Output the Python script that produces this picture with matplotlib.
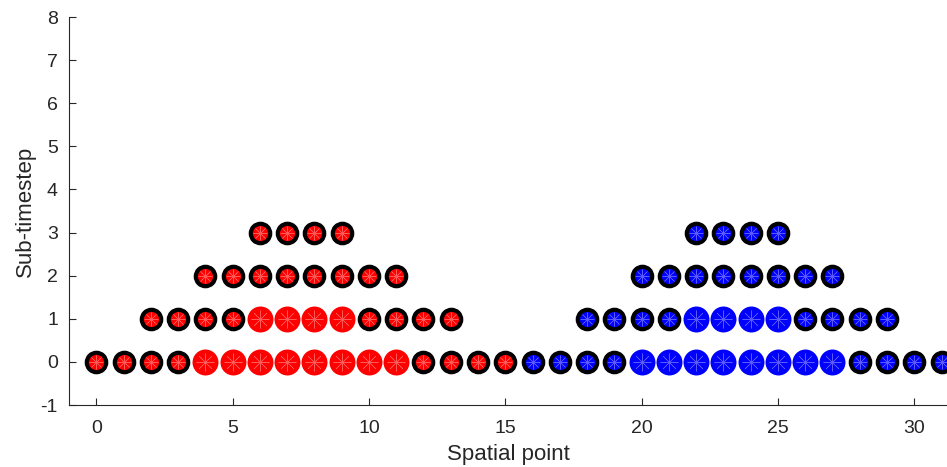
import matplotlib
matplotlib.use("Agg")
import matplotlib.pyplot as plt

plt.rcParams['font.family'] = ['Liberation Sans', 'DejaVu Sans']
plt.rcParams['axes.unicode_minus'] = False

# spatial points per sub-timestep (row), ring markers and plain filled markers
red_ring_0 = [0, 1, 2, 3, 12, 13, 14, 15]
red_ring_1 = [2, 3, 4, 5, 10, 11, 12, 13]
red_ring_2 = [4, 5, 6, 7, 8, 9, 10, 11]
red_ring_3 = [6, 7, 8, 9]
red_fill_0 = [4, 5, 6, 7, 8, 9, 10, 11]
red_fill_1 = [6, 7, 8, 9]

blue_ring_0 = [16, 17, 18, 19, 28, 29, 30, 31]
blue_ring_1 = [18, 19, 20, 21, 26, 27, 28, 29]
blue_ring_2 = [20, 21, 22, 23, 24, 25, 26, 27]
blue_ring_3 = [22, 23, 24, 25]
blue_fill_0 = [20, 21, 22, 23, 24, 25, 26, 27]
blue_fill_1 = [22, 23, 24, 25]

xticks = [0, 5, 10, 15, 20, 25, 30]
yticks = [-1, 0, 1, 2, 3, 4, 5, 6, 7, 8]

fig = plt.figure(figsize=(9.47, 4.67), dpi=100)
ax = fig.add_axes([69 / 947, 62 / 467, 1 - 69 / 947, 388 / 467])

rings = {'red': [red_ring_0, red_ring_1, red_ring_2, red_ring_3],
         'blue': [blue_ring_0, blue_ring_1, blue_ring_2, blue_ring_3]}
fills = {'red': [red_fill_0, red_fill_1],
         'blue': [blue_fill_0, blue_fill_1]}
light = {'red': '#ff5a5a', 'blue': '#5a5aff'}
face = {'red': '#ff0000', 'blue': '#0000ff'}

for c in ['red', 'blue']:
    for row, xs in enumerate(rings[c]):
        ax.plot(xs, [row] * len(xs), 'o', ms=14, mfc=face[c], mec='black',
                mew=3, ls='none')
        ax.plot(xs, [row] * len(xs), marker=(8, 2, 0), ms=10, mec=light[c],
                mew=0.4, ls='none')
    for row, xs in enumerate(fills[c]):
        ax.plot(xs, [row] * len(xs), 'o', ms=18.7, mfc=face[c], mec='none',
                ls='none')
        ax.plot(xs, [row] * len(xs), marker=(8, 2, 0), ms=13, mec=light[c],
                mew=0.4, ls='none')

ax.set_xlim(-1, 31.2)
ax.set_ylim(-1, 8)
ax.set_xticks(xticks)
ax.set_yticks(yticks)
ax.spines['top'].set_visible(False)
ax.spines['right'].set_visible(False)
for s in ['left', 'bottom']:
    ax.spines[s].set_color('#262626')
    ax.spines[s].set_linewidth(0.8)
ax.tick_params(direction='in', length=5, width=0.8, color='#262626',
               labelsize=14, labelcolor='#262626', pad=8)
ax.tick_params(axis='x', pad=11)
ax.set_xlabel('Spatial point', fontsize=16, color='#262626', labelpad=5)
ax.set_ylabel('Sub-timestep', fontsize=16, color='#262626', labelpad=3)

fig.savefig('out.png', dpi=100)
